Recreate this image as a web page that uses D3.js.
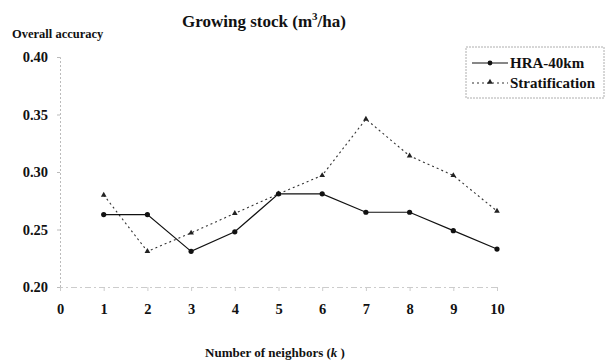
<!DOCTYPE html>
<html>
<head>
<meta charset="utf-8">
<script src="https://cdn.jsdelivr.net/npm/d3@7"></script>
<style>
  html, body { margin: 0; padding: 0; background: #fff; }
  svg text { font-family: "Liberation Serif", "Times New Roman", serif; font-weight: bold; fill: #111; }
</style>
</head>
<body>
<svg id="chart" width="609" height="363"></svg>
<script>
// Number of neighbours k
const neighbors = [1, 2, 3, 4, 5, 6, 7, 8, 9, 10];
// Overall accuracy per method
const hra40km = [0.263, 0.263, 0.231, 0.248, 0.281, 0.281, 0.265, 0.265, 0.249, 0.233];
const stratification = [0.280, 0.231, 0.247, 0.264, 0.281, 0.297, 0.346, 0.314, 0.297, 0.266];
const xTicks = [0, 1, 2, 3, 4, 5, 6, 7, 8, 9, 10];
const yTicks = [0.20, 0.25, 0.30, 0.35, 0.40];

const svg = d3.select("#chart");
const x = d3.scaleLinear().domain([0, 10]).range([60, 497]);
const y = d3.scaleLinear().domain([0.20, 0.40]).range([287, 57]);

// Title
const title = svg.append("text").attr("x", 264).attr("y", 27).attr("text-anchor", "middle")
  .style("font-size", "17px");
title.append("tspan").text("Growing stock (m");
title.append("tspan").attr("dy", -7).style("font-size", "11px").text("3");
title.append("tspan").attr("dy", 7).text("/ha)");

svg.append("text").attr("x", 12).attr("y", 38).style("font-size", "12.5px").text("Overall accuracy");

// Y axis
const yAxis = d3.axisLeft(y).tickValues(yTicks).tickFormat(d3.format(".2f")).tickSize(3).tickPadding(9);
const gy = svg.append("g").attr("transform", "translate(60,0)").call(yAxis);
gy.select(".domain").attr("stroke", "#bbb").attr("stroke-dasharray", "2,2");
gy.selectAll(".tick line").attr("stroke", "#bbb");
gy.selectAll(".tick text").style("font-size", "14.5px").style("font-family", "Liberation Serif").style("font-weight", "bold").attr("fill", "#111");

// X axis
const xAxis = d3.axisBottom(x).tickValues(xTicks).tickFormat(d3.format("d")).tickSize(4).tickPadding(13);
const gx = svg.append("g").attr("transform", "translate(0,287)").call(xAxis);
gx.select(".domain").attr("stroke", "#ccc").attr("stroke-dasharray", "6,3,2,3");
gx.selectAll(".tick line").attr("stroke", "#ccc");
gx.selectAll(".tick text").style("font-size", "14.5px").style("font-family", "Liberation Serif").style("font-weight", "bold").attr("fill", "#111");

// X axis title
const xt = svg.append("text").attr("x", 275).attr("y", 357).attr("text-anchor", "middle").style("font-size", "13px");
xt.append("tspan").text("Number of neighbors (");
xt.append("tspan").style("font-style", "italic").text("k");
xt.append("tspan").text(" )");

const line = d3.line().x((d, i) => x(neighbors[i])).y(d => y(d));

// Stratification: dotted line with triangles
svg.append("path").datum(stratification).attr("d", line)
  .attr("fill", "none").attr("stroke", "#333").attr("stroke-width", 1.1).attr("stroke-dasharray", "2,3");
const tri = d3.symbol().type(d3.symbolTriangle).size(14);
svg.selectAll(".tri").data(stratification).enter().append("path")
  .attr("d", tri).attr("transform", (d, i) => `translate(${x(neighbors[i])},${y(d)})`)
  .attr("fill", "#222");

// HRA-40km: solid line with dots
svg.append("path").datum(hra40km).attr("d", line)
  .attr("fill", "none").attr("stroke", "#111").attr("stroke-width", 1.2);
svg.selectAll(".dot").data(hra40km).enter().append("circle")
  .attr("cx", (d, i) => x(neighbors[i])).attr("cy", d => y(d)).attr("r", 2.6).attr("fill", "#111");

// Legend
const lg = svg.append("g");
lg.append("rect").attr("x", 466).attr("y", 47).attr("width", 138).attr("height", 51)
  .attr("fill", "#fff").attr("stroke", "#999").attr("stroke-width", 0.8).attr("stroke-dasharray", "2,1");
lg.append("line").attr("x1", 472).attr("x2", 508).attr("y1", 63).attr("y2", 63).attr("stroke", "#111").attr("stroke-width", 1.2);
lg.append("circle").attr("cx", 490).attr("cy", 63).attr("r", 2.4).attr("fill", "#111");
lg.append("text").attr("x", 510).attr("y", 68).style("font-size", "15px").text("HRA-40km");
lg.append("line").attr("x1", 472).attr("x2", 508).attr("y1", 83).attr("y2", 83).attr("stroke", "#333").attr("stroke-width", 1.1).attr("stroke-dasharray", "2,3");
lg.append("path").attr("d", tri).attr("transform", "translate(490,82)").attr("fill", "#222");
lg.append("text").attr("x", 510).attr("y", 88).style("font-size", "15px").text("Stratification");
</script>
</body>
</html>
